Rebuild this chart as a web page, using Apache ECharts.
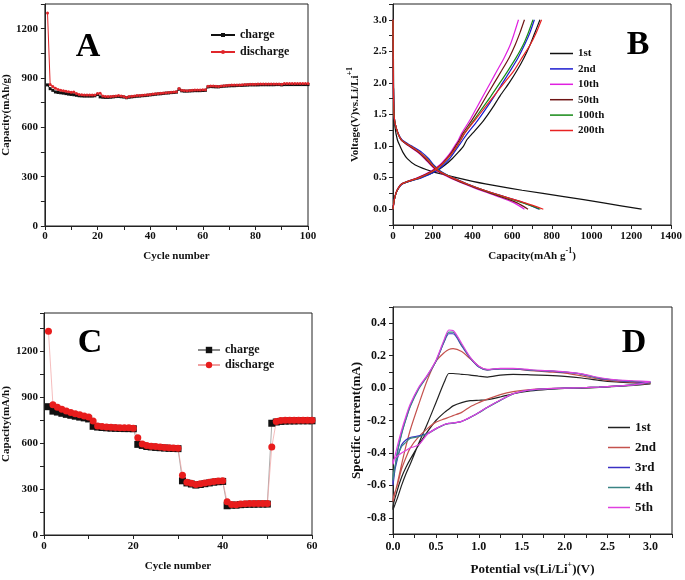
<!DOCTYPE html>
<html>
<head>
<meta charset="utf-8">
<script src="https://cdn.jsdelivr.net/npm/echarts@6.0.0/dist/echarts.min.js"></script>
<style>html,body{margin:0;padding:0;background:#fff;}#c{width:685px;height:580px;}</style>
</head>
<body>
<div id="c"></div>
<script>
// ---------- Panel A: cycling (mAh/g) ----------
const chargeA = [
 858,835,825,815,812,810,808,805,802,800,
 798,795,792,791,790,790,790,790,792,800,
 785,783,782,782,783,785,787,788,786,784,
 780,783,785,787,789,790,792,793,795,797,
 799,801,803,804,806,808,809,811,812,814,
 832,822,820,820,821,822,823,823,823,824,
 825,846,848,847,846,846,848,850,851,852,
 853,853,854,855,855,856,857,858,858,858,
 858,859,859,859,859,859,859,860,860,858,
 860,860,860,860,860,860,860,860,860,860];
const dischargeA = [
 1295,860,848,838,830,826,823,820,817,814,
 815,806,800,798,797,796,796,796,797,806,
 808,790,788,787,787,789,791,793,791,788,
 782,787,789,791,793,794,795,797,798,800,
 802,804,806,807,809,811,812,814,815,817,
 836,826,824,823,824,826,827,827,827,828,
 828,850,852,851,850,849,851,853,855,856,
 857,857,858,858,859,860,861,862,862,862,
 863,863,864,864,864,864,864,864,864,862,
 866,866,866,866,866,866,866,866,866,866];

// ---------- Panel B: voltage profiles ----------
const cycleNamesB = ['1st','2nd','10th','50th','100th','200th'];
const dischargeV = [3.0,2.5,2.0,1.5,1.3,1.1,1.0,0.9,0.8,0.7,0.6,0.5,0.4,0.3,0.2,0.1,0.0];
const dCap1   = [0,2,3,6,10,22,35,50,72,112,195,320,465,650,860,1060,1252];
const dCap2   = [0,1,2,5,15,45,95,145,180,205,240,300,375,460,560,660,735];
const dCap10  = [0,1,2,5,15,40,80,125,160,190,225,285,360,440,530,610,662];
const dCap50  = [0,1,2,5,15,40,82,128,163,193,228,290,365,447,540,625,680];
const dCap100 = [0,1,2,5,15,42,88,135,172,200,235,298,372,458,555,655,742];
const dCap200 = [0,1,2,5,15,42,88,135,170,198,232,297,373,460,560,665,757];
const chargeV = [0.0,0.1,0.2,0.3,0.4,0.5,0.6,0.7,0.8,0.9,1.0,1.1,1.2,1.4,1.6,1.8,2.0,2.2,2.4,2.6,2.8,3.0];
const cCap1   = [0,4,10,22,45,140,215,262,298,328,355,372,400,455,500,540,585,625,660,690,715,740];
const cCap2   = [0,4,10,22,48,145,215,255,285,308,330,352,375,425,470,512,552,592,630,662,690,712];
const cCap10  = [0,4,10,20,42,125,190,235,265,290,310,330,345,385,420,455,490,525,560,590,612,632];
const cCap50  = [0,4,10,20,43,128,195,240,270,295,315,335,352,395,435,472,510,548,585,615,640,662];
const cCap100 = [0,4,10,21,45,135,202,245,275,300,322,342,360,405,450,495,538,580,620,655,682,705];
const cCap200 = [0,4,10,21,45,133,200,243,273,300,322,342,360,410,460,510,560,610,650,690,722,748];

// ---------- Panel C: rate capability ----------
const chargeC = [
 838,809,803,795,788,782,776,770,765,758,
 710,705,702,700,698,697,696,695,695,694,
 592,585,578,575,572,570,568,566,565,564,
 354,340,333,326,330,335,340,345,348,350,
 191,195,195,198,200,201,201,202,202,202,
 730,738,742,744,745,745,746,746,746,746];
const dischargeC = [
 1330,851,835,822,810,800,792,785,778,770,
 744,712,708,705,703,702,701,700,700,698,
 636,595,585,580,578,575,572,570,568,567,
 391,345,338,330,335,340,345,350,352,355,
 217,200,198,202,204,205,205,206,206,206,
 575,742,748,750,750,750,750,750,750,750];

// ---------- Panel D: cyclic voltammetry ----------
const cycleNamesD = ['1st','2nd','3rd','4th','5th'];
const cvV = [0,0.05,0.1,0.15,0.2,0.3,0.4,0.5,0.6,0.65,0.7,0.8,0.9,1.0,1.1,1.25,1.4,1.6,1.8,2.0,2.2,2.4,2.6,2.8,3.0];
const anodic1 = [-0.75,-0.68,-0.6,-0.53,-0.47,-0.34,-0.22,-0.09,0.04,0.09,0.09,0.085,0.08,0.073,0.068,0.08,0.085,0.082,0.078,0.072,0.062,0.048,0.038,0.032,0.028];
const cathodic1 = [-0.74,-0.63,-0.55,-0.49,-0.44,-0.35,-0.27,-0.2,-0.15,-0.13,-0.11,-0.09,-0.078,-0.075,-0.072,-0.055,-0.035,-0.018,-0.008,-0.002,0.0,0.004,0.01,0.016,0.025];
const anodic2 = [-0.70,-0.59,-0.47,-0.36,-0.26,-0.1,0.05,0.165,0.22,0.238,0.243,0.225,0.18,0.135,0.112,0.12,0.118,0.108,0.1,0.092,0.075,0.055,0.042,0.035,0.03];
const cathodic2 = [-0.69,-0.6,-0.5,-0.43,-0.37,-0.3,-0.25,-0.21,-0.19,-0.18,-0.17,-0.15,-0.115,-0.09,-0.068,-0.04,-0.022,-0.01,-0.004,0.0,0.002,0.006,0.012,0.02,0.03];
const anodic3 = [-0.6,-0.4,-0.28,-0.19,-0.11,0.0,0.075,0.165,0.29,0.335,0.335,0.26,0.185,0.13,0.112,0.118,0.118,0.11,0.105,0.098,0.085,0.06,0.048,0.04,0.035];
const cathodic3 = [-0.58,-0.44,-0.35,-0.32,-0.305,-0.295,-0.28,-0.25,-0.225,-0.218,-0.216,-0.205,-0.18,-0.15,-0.118,-0.075,-0.035,-0.012,-0.004,0.0,0.002,0.006,0.012,0.02,0.035];
const anodic4 = [-0.57,-0.4,-0.285,-0.195,-0.115,-0.005,0.075,0.165,0.295,0.345,0.345,0.265,0.188,0.132,0.113,0.12,0.12,0.111,0.106,0.099,0.086,0.062,0.049,0.042,0.037];
const cathodic4 = [-0.55,-0.43,-0.36,-0.335,-0.31,-0.3,-0.282,-0.252,-0.226,-0.219,-0.216,-0.206,-0.182,-0.152,-0.12,-0.076,-0.036,-0.012,-0.004,0.0,0.002,0.006,0.012,0.02,0.037];
const anodic5 = [-0.47,-0.36,-0.26,-0.175,-0.1,0.005,0.08,0.17,0.305,0.358,0.355,0.275,0.19,0.135,0.115,0.122,0.122,0.113,0.107,0.1,0.088,0.065,0.05,0.045,0.04];
const cathodic5 = [-0.45,-0.42,-0.4,-0.385,-0.37,-0.35,-0.285,-0.25,-0.225,-0.218,-0.215,-0.205,-0.18,-0.15,-0.118,-0.074,-0.034,-0.011,-0.004,0.0,0.002,0.006,0.012,0.02,0.04];

// ---------- styling ----------
const FONT = '"Liberation Serif","Times New Roman",serif';
const AX = '#222';
const colorsB = ['#111111','#1c1cd0','#e020e0','#6e1414','#168a16','#e82222'];
const colorsD = ['#222222','#c4524e','#3a30c4','#3a8484','#e040e0'];

function valAxis(o) {
  return Object.assign({
    type: 'value',
    splitLine: {show: false},
    axisLine: {show: true, onZero: false, lineStyle: {color: AX, width: 1}},
    axisTick: {show: true, inside: false, length: 4, lineStyle: {color: AX}},
    minorTick: {show: false},
    nameLocation: 'middle',
    nameTextStyle: {fontFamily: FONT, fontWeight: 'bold', fontSize: 11, color: '#111'},
  }, o, {
    axisLabel: Object.assign({fontFamily: FONT, fontWeight: 'bold', fontSize: 11, color: '#111', margin: 6}, o.axisLabel || {})
  });
}
const every = (step, dec) => v => {
  const r = Math.round(v * 100);
  const s = Math.round(step * 100);
  if (Math.abs(r) % s !== 0) return '';
  const x = Math.round(v * 100) / 100;
  return dec ? (x === 0 ? 0 : x).toFixed(dec) : String(x);
};
const supRich = {sup: {fontFamily: FONT, fontWeight: 'bold', fontSize: 8, color: '#111', verticalAlign: 'top', lineHeight: 10}};

const xAxis = [
  valAxis({gridIndex: 0, min: 0, max: 100, interval: 10, name: 'Cycle number', nameGap: 25,
           axisLabel: {formatter: every(20, 0), margin: 5}}),
  valAxis({gridIndex: 1, min: 0, max: 1400, interval: 100, name: 'Capacity(mAh g{sup|-1})', nameGap: 22,
           nameTextStyle: {fontFamily: FONT, fontWeight: 'bold', fontSize: 11, color: '#111', lineHeight: 18, rich: supRich},
           axisLabel: {formatter: every(200, 0), margin: 6}}),
  valAxis({gridIndex: 2, min: 0, max: 60, interval: 10, name: 'Cycle number', nameGap: 26,
           axisLabel: {formatter: every(20, 0), margin: 6}}),
  valAxis({gridIndex: 3, min: 0, max: 3.25, interval: 0.25, name: 'Potential vs(Li/Li{sup|+})(V)', nameGap: 27,
           nameTextStyle: {fontFamily: FONT, fontWeight: 'bold', fontSize: 13, color: '#111', lineHeight: 18, rich: supRich},
           axisLabel: {formatter: every(0.5, 1), fontSize: 12, margin: 7}})
];
const yAxis = [
  valAxis({gridIndex: 0, min: 0, max: 1350, interval: 150, name: 'Capacity(mAh/g)', nameGap: 30,
           axisLabel: {formatter: every(300, 0), margin: 7}}),
  valAxis({gridIndex: 1, min: -0.25, max: 3.25, interval: 0.25, name: 'Voltage(V)vs.Li/Li{sup|+1}', nameGap: 29,
           nameTextStyle: {fontFamily: FONT, fontWeight: 'bold', fontSize: 11, color: '#111', lineHeight: 18, rich: supRich},
           axisLabel: {formatter: every(0.5, 1), margin: 6}}),
  valAxis({gridIndex: 2, min: 0, max: 1450, interval: 150, name: 'Capacity(mA/h)', nameGap: 31,
           axisLabel: {formatter: every(300, 0), margin: 6}}),
  valAxis({gridIndex: 3, min: -0.9, max: 0.5, interval: 0.1, name: 'Specific current(mA)', nameGap: 29,
           nameTextStyle: {fontFamily: FONT, fontWeight: 'bold', fontSize: 13, color: '#111'},
           axisLabel: {formatter: every(0.2, 1), fontSize: 12, margin: 7}})
];

const grid = [
  {left: 44, top: 4, width: 264, height: 222},
  {left: 393, top: 4, width: 279, height: 221},
  {left: 44, top: 313, width: 268, height: 222},
  {left: 393, top: 307, width: 279, height: 227}
].map(g => Object.assign({show: true, borderColor: AX, borderWidth: 1, backgroundColor: 'transparent'}, g));

const series = [];
// A
series.push({type: 'line', name: 'A:charge', xAxisIndex: 0, yAxisIndex: 0,
  data: chargeA.map((v, i) => [i + 1, v]), symbol: 'rect', symbolSize: 3,
  lineStyle: {color: '#111', width: 1}, itemStyle: {color: '#111'}});
series.push({type: 'line', name: 'A:discharge', xAxisIndex: 0, yAxisIndex: 0,
  data: dischargeA.map((v, i) => [i + 1, v]), symbol: 'circle', symbolSize: 3,
  lineStyle: {color: '#e0262b', width: 1}, itemStyle: {color: '#e0262b'}});
// B
const dCaps = [dCap1, dCap2, dCap10, dCap50, dCap100, dCap200];
const cCaps = [cCap1, cCap2, cCap10, cCap50, cCap100, cCap200];
cycleNamesB.forEach((n, k) => {
  const common = {type: 'line', name: 'B:' + n, xAxisIndex: 1, yAxisIndex: 1, symbol: 'none', smooth: 0.25,
    lineStyle: {color: colorsB[k], width: 1.2}, itemStyle: {color: colorsB[k]}};
  series.push(Object.assign({}, common, {data: dCaps[k].map((c, i) => [c, dischargeV[i]])}));
  series.push(Object.assign({}, common, {data: cCaps[k].map((c, i) => [c, chargeV[i]])}));
});
// C
series.push({type: 'line', name: 'C:charge', xAxisIndex: 2, yAxisIndex: 2,
  data: chargeC.map((v, i) => [i + 1, v]), symbol: 'rect', symbolSize: 7,
  lineStyle: {color: '#8a8a8a', width: 0.7}, itemStyle: {color: '#111'}});
series.push({type: 'line', name: 'C:discharge', xAxisIndex: 2, yAxisIndex: 2,
  data: dischargeC.map((v, i) => [i + 1, v]), symbol: 'circle', symbolSize: 7,
  lineStyle: {color: '#f0a0a0', width: 0.7}, itemStyle: {color: '#e81c1c'}});
// D
const anodics = [anodic1, anodic2, anodic3, anodic4, anodic5];
const cathodics = [cathodic1, cathodic2, cathodic3, cathodic4, cathodic5];
cycleNamesD.forEach((n, k) => {
  const loop = [];
  for (let i = cvV.length - 1; i >= 0; i--) loop.push([cvV[i], cathodics[k][i]]);
  for (let i = 0; i < cvV.length; i++) loop.push([cvV[i], anodics[k][i]]);
  series.push({type: 'line', name: 'D:' + n, xAxisIndex: 3, yAxisIndex: 3, symbol: 'none', smooth: 0.25,
    data: loop, lineStyle: {color: colorsD[k], width: 1.2}, itemStyle: {color: colorsD[k]}});
});

const strip = n => n.slice(2);
const legText = size => ({fontFamily: FONT, fontWeight: 'bold', fontSize: size, color: '#111'});
const legend = [
  {data: ['A:charge', 'A:discharge'], left: 205, top: 24, orient: 'vertical', itemWidth: 24, itemHeight: 5,
   itemGap: 5, formatter: strip, textStyle: legText(12), selectedMode: false},
  {data: cycleNamesB.map(n => 'B:' + n), left: 545, top: 43, orient: 'vertical', icon: 'rect', itemWidth: 23, itemHeight: 1.5,
   itemGap: 4.4, formatter: strip, textStyle: legText(11), selectedMode: false},
  {data: ['C:charge', 'C:discharge'], left: 192, top: 339, orient: 'vertical', itemWidth: 22, itemHeight: 8,
   itemGap: 3, formatter: strip, textStyle: legText(12), selectedMode: false},
  {data: cycleNamesD.map(n => 'D:' + n), left: 603, top: 416, orient: 'vertical', icon: 'rect', itemWidth: 22, itemHeight: 1.5,
   itemGap: 7, formatter: strip, textStyle: legText(13), selectedMode: false}
];

const letter = (t, x, y) => ({type: 'text', x: x, y: y, z: 100,
  style: {text: t, fill: '#000', font: 'bold 34px ' + FONT, fontFamily: FONT, fontWeight: 'bold', fontSize: 34,
          align: 'center', verticalAlign: 'middle', textAlign: 'center', textVerticalAlign: 'middle'}});

const option = {
  animation: false,
  backgroundColor: '#fff',
  grid, xAxis, yAxis, series, legend,
  graphic: [letter('A', 88, 47), letter('B', 638, 45), letter('C', 90, 343), letter('D', 634, 343)]
};
const chart = echarts.init(document.getElementById('c'), null, {renderer: 'canvas'});
chart.setOption(option);
</script>
</body>
</html>
